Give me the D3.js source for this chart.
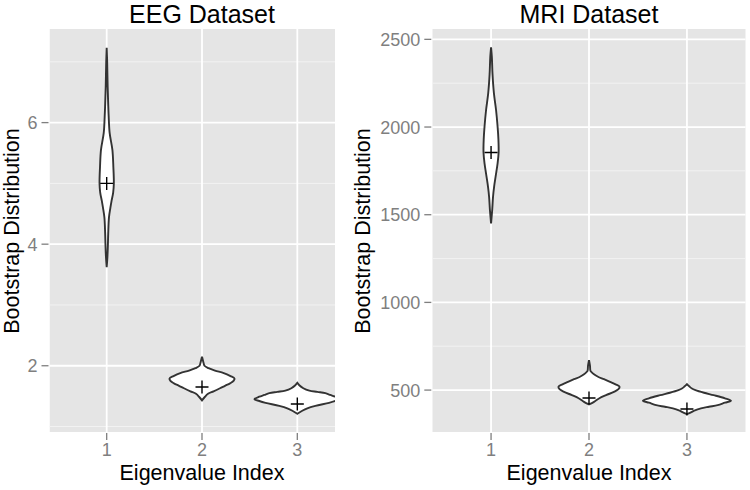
<!DOCTYPE html>
<html>
<head>
<meta charset="utf-8">
<script src="https://cdn.jsdelivr.net/npm/d3@7"></script>
<style>
  body { margin: 0; background: #fff; }
  svg { display: block; font-family: "Liberation Sans", Arial, sans-serif; }
</style>
</head>
<body>
<div id="chart"></div>
<script>
// eigenvalue index categories
const categories = ['1', '2', '3'];

// violin outlines: [value, half width in category units]
const eegViolin1 = [[7.23,0],[7.0,0.005],[6.6,0.010],[6.3,0.016],[6.1,0.021],[5.83,0.031],[5.55,0.060],[5.27,0.070],[5.0,0.075],[4.85,0.068],[4.72,0.052],[4.6,0.039],[4.44,0.024],[4.17,0.016],[4.0,0.013],[3.8,0.008],[3.62,0]];
const eegViolin2 = [[2.15,0],[2.10,0.008],[2.05,0.016],[2.00,0.026],[1.96,0.068],[1.92,0.136],[1.88,0.228],[1.83,0.299],[1.79,0.341],[1.75,0.331],[1.71,0.294],[1.67,0.241],[1.63,0.189],[1.58,0.121],[1.54,0.063],[1.49,0.031],[1.43,0]];
const eegViolin3 = [[1.72,0],[1.68,0.021],[1.63,0.063],[1.59,0.126],[1.57,0.210],[1.55,0.294],[1.52,0.346],[1.49,0.399],[1.45,0.450],[1.42,0.399],[1.39,0.333],[1.34,0.189],[1.30,0.105],[1.26,0.052],[1.21,0]];
const eegMeans = [5.0, 1.65, 1.37];

const mriViolin1 = [[2455,0],[2400,0.008],[2300,0.015],[2193,0.029],[2097,0.051],[2000,0.067],[1930,0.075],[1853,0.077],[1790,0.066],[1716,0.046],[1659,0.031],[1602,0.020],[1530,0.012],[1450,0]];
const mriViolin2 = [[671,0],[640,0.010],[610,0.015],[600,0.031],[590,0.051],[576,0.092],[562,0.153],[547,0.215],[533,0.271],[519,0.312],[505,0.301],[490,0.255],[471,0.174],[452,0.102],[433,0.051],[418,0]];
const mriViolin3 = [[534,0],[520,0.026],[509,0.051],[500,0.087],[485,0.174],[471,0.273],[453,0.388],[439,0.450],[428,0.388],[414,0.314],[405,0.225],[396,0.143],[385,0.082],[376,0.051],[363,0]];
const mriMeans = [1855, 455, 392];

const eegTicks = [2, 4, 6];
const eegMinor = [1, 3, 5, 7];
const mriTicks = [500, 1000, 1500, 2000, 2500];
const mriMinor = [750, 1250, 1750, 2250];

const width = 750, height = 490;
const svg = d3.select('#chart').append('svg').attr('width', width).attr('height', height);

function drawPanel(opt) {
  const x = d3.scaleLinear().domain([0.4, 3.6]).range([opt.left, opt.right]);
  const y = d3.scaleLinear().domain(opt.yDomain).range([432, 29]);
  const clipRight = opt.clipRight || opt.right;
  const id = 'clip' + opt.name;
  svg.append('clipPath').attr('id', id)
    .append('rect').attr('x', opt.left).attr('y', 29).attr('width', clipRight - opt.left).attr('height', 403);

  const g = svg.append('g');
  const panel = g.append('g').attr('clip-path', `url(#${id})`);
  panel.append('rect').attr('x', opt.left).attr('y', 29).attr('width', opt.right - opt.left).attr('height', 403).attr('fill', '#E5E5E5');

  panel.selectAll('.minor').data(opt.minor).enter().append('line')
    .attr('x1', opt.left).attr('x2', opt.right)
    .attr('y1', d => y(d)).attr('y2', d => y(d))
    .attr('stroke', '#F2F2F2').attr('stroke-width', 1);
  panel.selectAll('.major').data(opt.ticks).enter().append('line')
    .attr('x1', opt.left).attr('x2', opt.right)
    .attr('y1', d => y(d)).attr('y2', d => y(d))
    .attr('stroke', '#fff').attr('stroke-width', 1.8);
  panel.selectAll('.vmajor').data(categories).enter().append('line')
    .attr('x1', (d, i) => x(i + 1)).attr('x2', (d, i) => x(i + 1))
    .attr('y1', 29).attr('y2', 432)
    .attr('stroke', '#fff').attr('stroke-width', 1.8);

  opt.violins.forEach((prof, i) => {
    const area = d3.area()
      .y(d => y(d[0]))
      .x0(d => x(i + 1 - d[1]))
      .x1(d => x(i + 1 + d[1]))
      .curve(d3.curveCatmullRom);
    panel.append('path').attr('d', area(prof))
      .attr('fill', '#fff').attr('stroke', '#333').attr('stroke-width', 1.9);
  });

  opt.means.forEach((m, i) => {
    const cx = x(i + 1), cy = y(m);
    panel.append('path')
      .attr('d', `M${cx - 6.5},${cy}H${cx + 6.5}M${cx},${cy - 6.5}V${cy + 6.5}`)
      .attr('stroke', '#000').attr('stroke-width', 1.4);
  });

  // y axis
  g.selectAll('.ytick').data(opt.ticks).enter().append('line')
    .attr('x1', opt.left - 8).attr('x2', opt.left - 1)
    .attr('y1', d => y(d)).attr('y2', d => y(d))
    .attr('stroke', '#7F7F7F').attr('stroke-width', 1.3);
  g.selectAll('.ylab').data(opt.ticks).enter().append('text')
    .attr('x', opt.left - 12).attr('y', d => y(d) + 6.5)
    .attr('text-anchor', 'end').attr('font-size', 18).attr('fill', '#7F7F7F')
    .text(d => d);

  // x axis
  g.selectAll('.xtick').data(categories).enter().append('line')
    .attr('x1', (d, i) => x(i + 1)).attr('x2', (d, i) => x(i + 1))
    .attr('y1', 433).attr('y2', 440)
    .attr('stroke', '#7F7F7F').attr('stroke-width', 1.3);
  g.selectAll('.xlab').data(categories).enter().append('text')
    .attr('x', (d, i) => x(i + 1)).attr('y', 456)
    .attr('text-anchor', 'middle').attr('font-size', 18).attr('fill', '#7F7F7F')
    .text(d => d);

  const mid = (opt.left + opt.right) / 2;
  g.append('text').attr('x', mid).attr('y', 480)
    .attr('text-anchor', 'middle').attr('font-size', 21.5).attr('fill', '#000')
    .text('Eigenvalue Index');
  g.append('text').attr('x', mid).attr('y', 23)
    .attr('text-anchor', 'middle').attr('font-size', 25).attr('fill', '#000')
    .text(opt.title);
  g.append('text')
    .attr('transform', `translate(${opt.yTitleX},231) rotate(-90)`)
    .attr('text-anchor', 'middle').attr('font-size', 21.5).attr('fill', '#000')
    .text('Bootstrap Distribution');
}

drawPanel({
  name: 'eeg', title: 'EEG Dataset', left: 49.5, right: 354.5, clipRight: 335,
  yDomain: [0.91, 7.54], ticks: eegTicks, minor: eegMinor,
  violins: [eegViolin1, eegViolin2, eegViolin3], means: eegMeans, yTitleX: 19
});
drawPanel({
  name: 'mri', title: 'MRI Dataset', left: 432.3, right: 745.7,
  yDomain: [261, 2559], ticks: mriTicks, minor: mriMinor,
  violins: [mriViolin1, mriViolin2, mriViolin3], means: mriMeans, yTitleX: 370
});
</script>
</body>
</html>
